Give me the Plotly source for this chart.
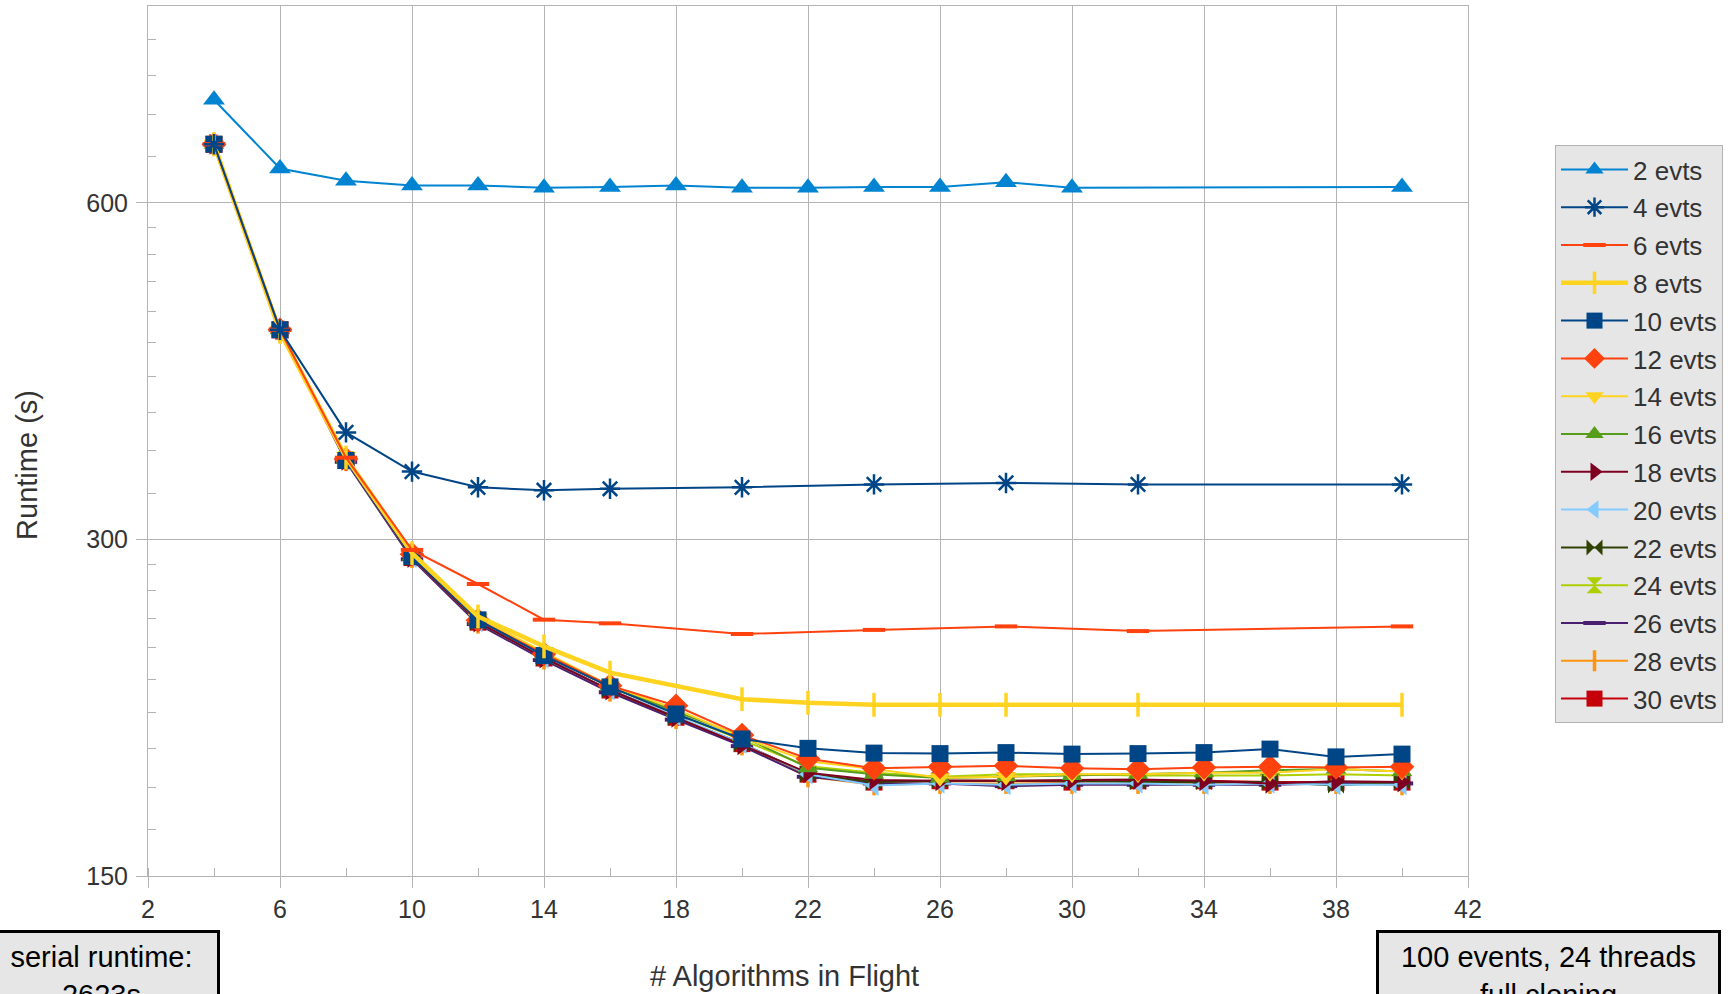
import plotly.graph_objects as go

# ---------------- data ----------------
X_ALL = [4, 6, 8, 10, 12, 14, 16, 18, 20, 22, 24, 26, 28, 30, 32, 34, 36, 38, 40]
X_2 = [4, 6, 8, 10, 12, 14, 16, 18, 20, 22, 24, 26, 28, 30, 40]
X_4 = [4, 6, 8, 10, 12, 14, 16, 20, 24, 28, 32, 40]
X_6 = [4, 6, 8, 10, 12, 14, 16, 20, 24, 28, 32, 40]
X_8 = [4, 6, 8, 10, 12, 14, 16, 20, 22, 24, 26, 28, 32, 40]

evts_2 = [742, 644, 628, 622, 622, 619, 620, 622, 619, 619, 620, 620, 626, 619, 620]
evts_4 = [677, 462, 374, 345, 334, 332, 333, 334, 336, 337, 336, 336]
evts_6 = [677, 462, 355, 293.6, 273.7, 254.3, 252.4, 246.9, 249, 250.8, 248.4, 250.8]
evts_8 = [677, 460, 355, 291.7, 256, 240.7, 228, 215.9, 214.3, 213.4, 213.4, 213.4, 213.4, 213.4]
evts_10 = [677, 462, 353, 289.6, 254.2, 236.2, 221.4, 209.4, 198.9, 195.1, 193.2, 193.0, 193.4, 192.8, 193.0, 193.4, 194.8, 191.7, 192.8]
evts_12 = [677, 462, 354, 291, 254, 237, 222, 213, 200.5, 191, 187.3, 187.8, 188.2, 187.3, 186.9, 187.6, 187.8, 187.6, 187.8]
evts_14 = [677, 461, 356, 291, 255, 238, 222, 211.5, 199.5, 190, 187, 183.6, 184, 185, 185, 185.5, 185.5, 187, 186]
evts_16 = [677, 462, 354, 290, 254, 237, 222, 210.5, 200, 187.5, 185, 183.5, 184, 184.5, 185, 185.5, 186.5, 187, 186]
evts_18 = [677, 462, 353, 289, 253, 235, 220, 208, 196.5, 185.5, 182.8, 182.5, 182.5, 182.8, 183, 182.5, 181.5, 182.3, 182]
evts_20 = [677, 462, 353, 289, 253, 235, 220, 208.5, 197, 185, 180.7, 181.5, 181, 181.5, 181.5, 181, 181.5, 181, 181]
evts_22 = [677, 462, 353, 289, 253, 235, 220, 208, 197, 185, 182, 182.5, 182.5, 182.5, 182, 182, 182, 180.7, 182]
evts_24 = [677, 462, 354, 290, 254, 236.5, 221.5, 209.5, 198.5, 188, 185.5, 184, 185, 185, 184.5, 184.5, 184.5, 185, 184.5]
evts_26 = [677, 462, 352, 288, 252, 234, 219, 207, 196, 184, 181.5, 181.5, 180.5, 181, 181, 181, 181, 181.5, 181.5]
evts_28 = [677, 461, 353, 289, 252.5, 234.5, 219.5, 207.5, 196.5, 184, 181, 181.5, 181.5, 181.5, 181.5, 181.5, 181.5, 181.5, 181]
evts_30 = [677, 462, 353, 289, 253, 235, 220, 208, 197, 185, 182, 182.5, 182.5, 182, 182.5, 182.5, 182, 182, 182]

Y_TICKS = [150, 300, 600]
Y_MINOR = [165, 180, 195, 210, 225, 240, 255, 270, 285,
           330, 360, 390, 420, 450, 480, 510, 540, 570,
           660, 720, 780, 840]

# (name, x, y, color, symbol, marker size, marker line width, line width)
series = [
    ("2 evts", X_2, evts_2, "#0084d1", "triangle-up", 19, 0, 2),
    ("4 evts", X_4, evts_4, "#004586", "asterisk-open", 17, 2.5, 2),
    ("6 evts", X_6, evts_6, "#ff420e", "line-ew-open", 16, 4, 2),
    ("8 evts", X_8, evts_8, "#ffd320", "line-ns-open", 17, 3.5, 4.5),
    ("10 evts", X_ALL, evts_10, "#004586", "square", 17, 0, 2),
    ("12 evts", X_ALL, evts_12, "#ff420e", "diamond", 19, 0, 2),
    ("14 evts", X_ALL, evts_14, "#ffd320", "triangle-down", 18, 0, 2),
    ("16 evts", X_ALL, evts_16, "#579d1c", "triangle-up", 18, 0, 2),
    ("18 evts", X_ALL, evts_18, "#7e0021", "triangle-right", 18, 0, 2),
    ("20 evts", X_ALL, evts_20, "#83caff", "triangle-left", 18, 0, 2),
    ("22 evts", X_ALL, evts_22, "#314004", "bowtie", 16, 0, 2),
    ("24 evts", X_ALL, evts_24, "#aecf00", "hourglass", 16, 0, 2),
    ("26 evts", X_ALL, evts_26, "#4b1f6f", "line-ew-open", 16, 4, 2),
    ("28 evts", X_ALL, evts_28, "#ff950e", "line-ns-open", 15, 3.5, 2),
    ("30 evts", X_ALL, evts_30, "#c5000b", "square", 17, 0, 2),
]

fig = go.Figure()
# later series are drawn underneath earlier ones, as in the reference
for rank, (name, xs, ys, color, sym, msize, mlw, lw) in reversed(list(enumerate(series))):
    fig.add_trace(go.Scatter(
        x=xs, y=ys, name=name, mode="lines+markers", legendgroup=name,
        legendrank=rank + 1,
        line=dict(color=color, width=lw),
        marker=dict(symbol=sym, size=msize, color=color,
                    line=dict(color=color, width=mlw)),
    ))

FONT = "Liberation Sans, Arial, sans-serif"
GRID = "#b3b3b3"
W, H = 1733, 994
L, R, T, B = 148, 265, 6, 118
PW, PH = W - L - R, H - T - B


def px(xpix):
    return (xpix - L) / PW


def py(ypix):
    return (H - B - ypix) / PH


fig.update_layout(
    width=W, height=H,
    margin=dict(l=L, r=R, t=T, b=B, pad=0),
    paper_bgcolor="white", plot_bgcolor="white",
    font=dict(family=FONT, size=25, color="#333333"),
    showlegend=True,
    legend=dict(
        x=px(1555), y=py(145), xanchor="left", yanchor="top",
        bgcolor="#e6e6e6", bordercolor="#b3b3b3", borderwidth=1,
        font=dict(family=FONT, size=26, color="#333333"),
        traceorder="grouped", tracegroupgap=1,
        itemwidth=67,
    ),
    xaxis=dict(
        range=[2, 42], tick0=2, dtick=4, tickmode="linear",
        showgrid=True, gridcolor=GRID, gridwidth=1,
        showline=True, linecolor=GRID, linewidth=1, mirror=True,
        ticks="outside", ticklen=11, tickcolor=GRID,
        tickfont=dict(family=FONT, size=25, color="#333333"),
        ticklabelstandoff=0,
        minor=dict(dtick=2, tick0=2, ticks="inside", ticklen=8,
                   tickcolor=GRID, showgrid=False),
        zeroline=False,
    ),
    yaxis=dict(
        type="log", range=[2.176091259, 2.954242509],
        tickmode="array", tickvals=Y_TICKS, ticktext=[str(v) for v in Y_TICKS],
        showgrid=True, gridcolor=GRID, gridwidth=1,
        showline=True, linecolor=GRID, linewidth=1, mirror=True,
        ticks="outside", ticklen=11, tickcolor=GRID,
        tickfont=dict(family=FONT, size=25, color="#333333"),
        ticklabelstandoff=3,
        minor=dict(tickmode="array", tickvals=Y_MINOR, ticks="inside",
                   ticklen=8, tickcolor=GRID, showgrid=False),
        zeroline=False,
    ),
    annotations=[
        dict(text="Runtime (s)", textangle=-90, xref="paper", yref="paper",
             x=px(27.6), y=py(465.3), xanchor="center", yanchor="middle",
             showarrow=False, font=dict(family=FONT, size=29, color="#333333")),
        dict(text="# Algorithms in Flight", xref="paper", yref="paper",
             x=px(784.7), y=py(976), xanchor="center", yanchor="middle",
             showarrow=False, font=dict(family=FONT, size=29, color="#333333")),
        dict(text="serial runtime:<br>2623s", xref="paper", yref="paper",
             x=px(101.7), y=py(930), xanchor="center", yanchor="top",
             showarrow=False, align="center", width=215,
             bgcolor="#e6e6e6", bordercolor="#000000", borderwidth=3, borderpad=8,
             font=dict(family=FONT, size=29, color="#000000")),
        dict(text="100 events, 24 threads<br>full cloning", xref="paper", yref="paper",
             x=px(1548.5), y=py(930), xanchor="center", yanchor="top",
             showarrow=False, align="center", width=323,
             bgcolor="#e6e6e6", bordercolor="#000000", borderwidth=3, borderpad=8,
             font=dict(family=FONT, size=29, color="#000000")),
    ],
)

fig.write_html("out.html", config={"displayModeBar": False},
               post_script="document.body.style.margin='0px';")
